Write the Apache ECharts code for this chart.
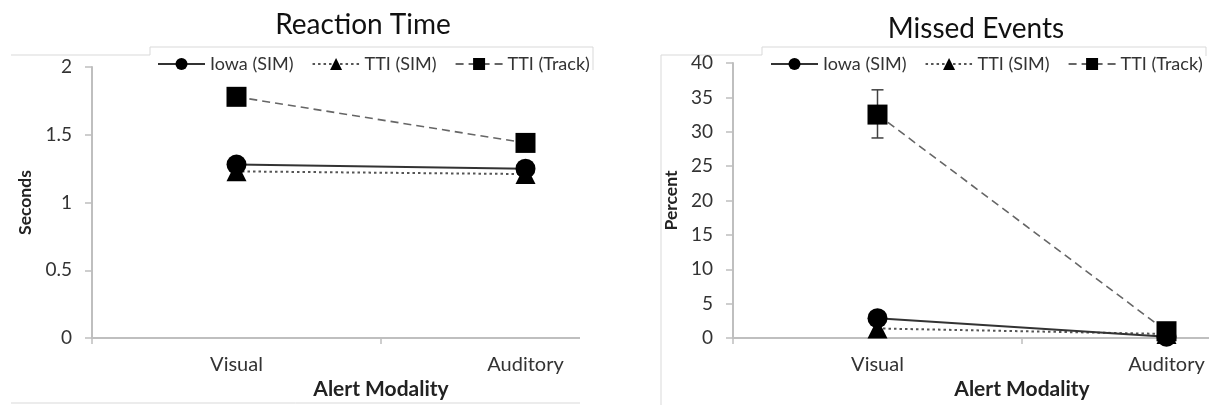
<!DOCTYPE html>
<html>
<head>
<meta charset="utf-8">
<script src="https://cdn.jsdelivr.net/npm/echarts@6/dist/echarts.min.js"></script>
<style>
  html, body { margin: 0; padding: 0; background: #ffffff; width: 1209px; height: 405px; overflow: hidden; }
  .wrap { position: absolute; top: 0; height: 405px; overflow: hidden; }
</style>
</head>
<body>
<div class="wrap" style="left:0;width:596px;"><div id="c1" style="width:700px;height:405px;"></div></div>
<div class="wrap" style="left:620px;width:589px;"><div id="c2" style="width:720px;height:405px;"></div></div>
<script>
// ---- data ----
const categories = ['Visual', 'Auditory'];
const seriesNames = ['Iowa (SIM)', 'TTI (SIM)', 'TTI (Track)'];

// Reaction Time (seconds)
const rtIowaSim = [1.28, 1.25];
const rtTtiSim = [1.23, 1.21];
const rtTtiTrack = [1.78, 1.44];

// Missed Events (percent)
const meIowaSim = [2.9, 0.2];
const meTtiSim = [1.4, 0.6];
const meTtiTrack = [32.5, 1.0];
const meTrackErrLow = [29.1, null];
const meTrackErrHigh = [36.1, null];

// ---- styling ----
const FONT = 'Lato';
const TXT = '#333333';
const AXIS = '#bfbfbf';
const BORDER = '#d9d9d9';

const lineDefs = [
  { symbol: 'circle', lineStyle: { color: '#333333', width: 2, type: 'solid' }, z: 4 },
  { symbol: 'triangle', lineStyle: { color: '#555555', width: 2, type: [2.5, 3] }, z: 3 },
  { symbol: 'rect', lineStyle: { color: '#666666', width: 1.6, type: [8, 5] }, z: 5 }
];

function makeSeries(valuesList) {
  return valuesList.map((vals, i) => ({
    name: seriesNames[i],
    type: 'line',
    data: vals,
    symbol: lineDefs[i].symbol,
    symbolSize: 20,
    showAllSymbol: true,
    z: lineDefs[i].z,
    itemStyle: { color: '#000000' },
    lineStyle: lineDefs[i].lineStyle,
    emphasis: { disabled: true }
  }));
}

function baseOption(cfg) {
  return {
    animation: false,
    backgroundColor: '#ffffff',
    textStyle: { fontFamily: FONT },
    title: {
      text: cfg.title,
      left: cfg.titleX,
      top: cfg.titleY,
      textAlign: 'center',
      textStyle: { fontFamily: FONT, fontSize: 28, fontWeight: 'normal', color: '#111111' }
    },
    legend: {
      data: seriesNames,
      left: cfg.legendX,
      top: 55,
      padding: 0,
      itemGap: 18,
      itemWidth: 47,
      itemHeight: 15,
      textStyle: { fontFamily: FONT, fontSize: 18, color: TXT },
      selectedMode: false
    },
    grid: { left: cfg.gridLeft, top: cfg.gridTop, width: 578, height: cfg.gridHeight, containLabel: false },
    xAxis: {
      type: 'category',
      data: categories,
      boundaryGap: true,
      name: 'Alert Modality',
      nameLocation: 'middle',
      nameGap: 37,
      nameTextStyle: { fontFamily: FONT, fontSize: 21, fontWeight: 'bold', color: '#222222' },
      axisLine: { lineStyle: { color: AXIS, width: 2 } },
      axisTick: { show: true, length: 6, lineStyle: { color: AXIS, width: 1.5 } },
      axisLabel: { margin: 16, fontFamily: FONT, fontSize: 20, color: TXT },
      splitLine: { show: false }
    },
    yAxis: {
      type: 'value',
      min: cfg.yMin,
      max: cfg.yMax,
      interval: cfg.yInterval,
      name: cfg.yName,
      nameLocation: 'middle',
      nameRotate: 90,
      nameGap: cfg.yNameGap,
      nameTextStyle: { fontFamily: FONT, fontSize: 17.5, fontWeight: 'bold', color: '#222222' },
      axisLine: { show: true, lineStyle: { color: AXIS, width: 2 } },
      axisTick: { show: true, length: 7, lineStyle: { color: AXIS, width: 1.5 } },
      axisLabel: { margin: 20, fontFamily: FONT, fontSize: 19, color: TXT },
      splitLine: { show: false }
    },
    graphic: cfg.graphic,
    series: cfg.series
  };
}

function borderLine(points) {
  return { type: 'polyline', silent: true, z: 0, shape: { points: points }, style: { stroke: BORDER, lineWidth: 1, fill: null } };
}

// ---- left chart: Reaction Time ----
const c1 = echarts.init(document.getElementById('c1'));
c1.setOption(baseOption({
  title: 'Reaction Time', titleX: 358, titleY: 6,
  legendX: 157,
  gridLeft: 92, gridTop: 67, gridHeight: 277,
  yMin: 0, yMax: 2, yInterval: 0.5, yName: 'Seconds', yNameGap: 56,
  graphic: [
    // white mask: the original picture is cropped just right of the plot
    { type: 'rect', silent: true, z: 100, shape: { x: 580, y: 72, width: 40, height: 340 }, style: { fill: '#ffffff' } },
    borderLine([[11, 55], [150, 55], [150, 47], [593, 47], [593, 70]]),
    borderLine([[11, 403], [580, 403]])
  ],
  series: makeSeries([rtIowaSim, rtTtiSim, rtTtiTrack])
}));

// ---- right chart: Missed Events ----
const errData = categories.map((c, i) => meTrackErrLow[i] == null ? null : [i, meTrackErrLow[i], meTrackErrHigh[i]]).filter(d => d);
const errSeries = {
  type: 'custom',
  z: 1,
  silent: true,
  data: errData,
  encode: { x: 0, y: [1, 2] },
  renderItem: function (params, api) {
    const x = api.value(0);
    const lo = api.coord([x, api.value(1)]);
    const hi = api.coord([x, api.value(2)]);
    const w = 6;
    const st = { stroke: '#404040', lineWidth: 1.5 };
    return {
      type: 'group',
      children: [
        { type: 'line', shape: { x1: hi[0], y1: hi[1], x2: lo[0], y2: lo[1] }, style: st },
        { type: 'line', shape: { x1: hi[0] - w, y1: hi[1], x2: hi[0] + w, y2: hi[1] }, style: st },
        { type: 'line', shape: { x1: lo[0] - w, y1: lo[1], x2: lo[0] + w, y2: lo[1] }, style: st }
      ]
    };
  }
};
const c2 = echarts.init(document.getElementById('c2'));
c2.setOption(baseOption({
  title: 'Missed Events', titleX: 351, titleY: 10,
  legendX: 150,
  gridLeft: 113, gridTop: 63, gridHeight: 279,
  yMin: 0, yMax: 40, yInterval: 5, yName: 'Percent', yNameGap: 51,
  graphic: [
    borderLine([[41, 405], [41, 55], [142, 55], [142, 47], [586, 47], [586, 56]])
  ],
  series: makeSeries([meIowaSim, meTtiSim, meTtiTrack]).concat([errSeries])
}));
</script>
</body>
</html>
